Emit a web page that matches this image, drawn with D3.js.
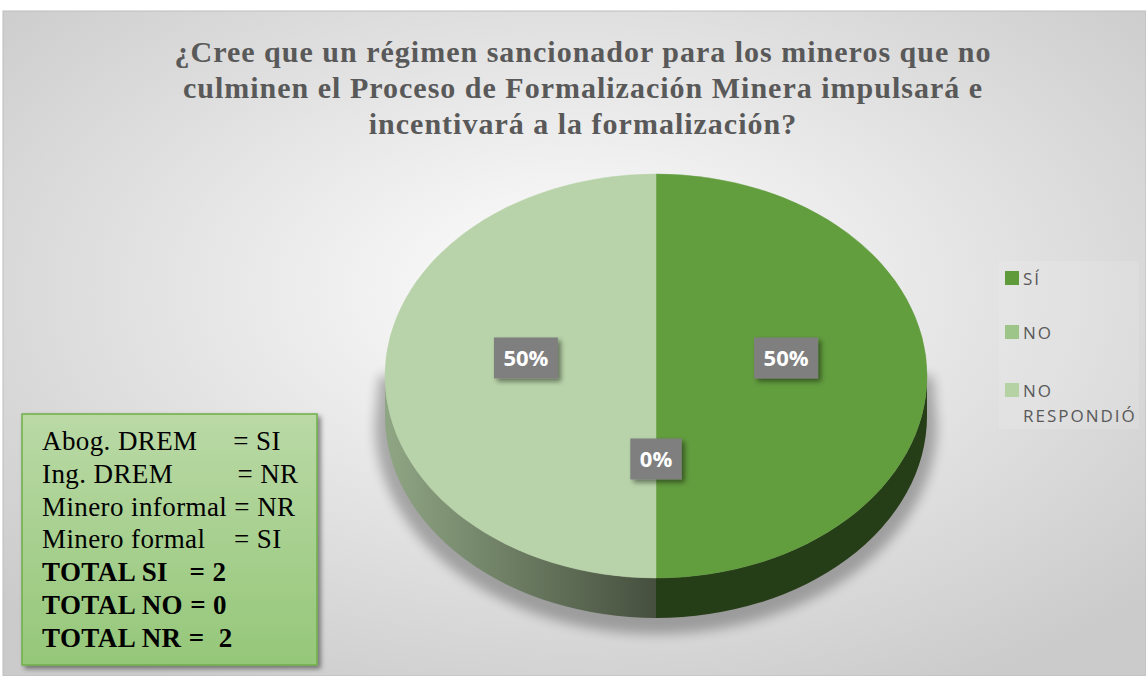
<!DOCTYPE html>
<html>
<head>
<meta charset="utf-8">
<script src="https://cdn.jsdelivr.net/npm/d3@7"></script>
<style>
  body { margin: 0; background: #fff; }
  svg { display: block; }
</style>
</head>
<body>
<div id="chart"></div>
<script>
// Chart data
const titleLines = [
    "¿Cree que un régimen sancionador para los mineros que no",
    "culminen el Proceso de Formalización Minera impulsará e",
    "incentivará a la formalización?"
];
const categories = ["SÍ", "NO", "NO RESPONDIÓ"];
const counts = [2, 0, 2];
const respondentLines = [
    "Abog. DREM     = SI",
    "Ing. DREM         = NR",
    "Minero informal = NR",
    "Minero formal    = SI"
];
const totalLines = [
    "TOTAL SI   = 2",
    "TOTAL NO = 0",
    "TOTAL NR =  2"
];

const width = 1146, height = 676;
const topColors = ["#629d3e", "#9dc58a", "#b8d3a9"];
const legendColors = ["#5f9a3b", "#9dc58a", "#b5d2a5"];

const svg = d3.select("#chart").append("svg")
    .attr("width", width)
    .attr("height", height);

const defs = svg.append("defs");

const bg = defs.append("radialGradient").attr("id", "bg")
    .attr("cx", "50%").attr("cy", "42%").attr("r", "68%");
bg.append("stop").attr("offset", "0%").attr("stop-color", "#ffffff");
bg.append("stop").attr("offset", "100%").attr("stop-color", "#cbcbcb");

const boxFill = defs.append("linearGradient").attr("id", "boxFill")
    .attr("x1", 0).attr("y1", 0).attr("x2", 0).attr("y2", 1);
boxFill.append("stop").attr("offset", "0%").attr("stop-color", "#bad9a6");
boxFill.append("stop").attr("offset", "100%").attr("stop-color", "#95c779");

const blur = defs.append("filter").attr("id", "blur")
    .attr("x", "-20%").attr("y", "-20%").attr("width", "140%").attr("height", "140%");
blur.append("feGaussianBlur").attr("stdDeviation", 6);

const drop = defs.append("filter").attr("id", "drop")
    .attr("x", "-20%").attr("y", "-20%").attr("width", "150%").attr("height", "150%");
drop.append("feDropShadow").attr("dx", 3).attr("dy", 3)
    .attr("stdDeviation", 2.5).attr("flood-color", "#000").attr("flood-opacity", 0.45);

// chart area
svg.append("rect")
    .attr("x", 3).attr("y", 11)
    .attr("width", width - 3).attr("height", height - 11)
    .attr("fill", "url(#bg)")
    .attr("stroke", "#bdbdbd");

// title
svg.append("g").selectAll("text")
    .data(titleLines)
    .join("text")
    .attr("x", 583)
    .attr("y", (d, i) => 62 + i * 36)
    .attr("text-anchor", "middle")
    .attr("font-family", "'Liberation Serif', 'Times New Roman', serif")
    .attr("font-weight", "bold")
    .attr("font-size", 30)
    .attr("letter-spacing", 1)
    .attr("fill", "#595959")
    .text(d => d);

// pie geometry
const cx = 656, cy = 376, rx = 271, ry = 202, depth = 40;
const pie = d3.pie().sort(null).value(d => d.value);
const slices = pie(categories.map((c, i) => ({ name: c, value: counts[i], idx: i })));
const fmt = d3.format(".0%");
const total = d3.sum(counts);

const pt = (a, dy) => [cx + rx * Math.sin(a), cy - ry * Math.cos(a) + (dy || 0)];

const sideGrad = defs.append("linearGradient").attr("id", "sideLeft")
    .attr("gradientUnits", "userSpaceOnUse")
    .attr("x1", cx - rx).attr("y1", 0).attr("x2", cx).attr("y2", 0);
sideGrad.append("stop").attr("offset", "0%").attr("stop-color", "#8fa684");
sideGrad.append("stop").attr("offset", "100%").attr("stop-color", "#464f3e");
const sideColors = ["#263e18", "#3f5e2e", "url(#sideLeft)"];

const pieG = svg.append("g");

// soft shadow under the pie
const sh0 = pt(Math.PI / 2, 0), sh1 = pt(3 * Math.PI / 2, 0);
pieG.append("path")
    .attr("d", `M${sh1[0] - 6},${sh1[1]} L${sh1[0] - 10},${sh1[1] + depth + 8}
        A${rx + 10},${ry + 8} 0 0 0 ${sh0[0] + 10},${sh0[1] + depth + 8}
        L${sh0[0] + 6},${sh0[1]} Z`)
    .attr("fill", "#000")
    .attr("opacity", 0.28)
    .attr("filter", "url(#blur)");

// visible side walls (front half only)
slices.forEach(s => {
    const a0 = Math.max(s.startAngle, Math.PI / 2);
    const a1 = Math.min(s.endAngle, 3 * Math.PI / 2);
    if (a1 - a0 <= 0) return;
    const p0 = pt(a0), p1 = pt(a1), q1 = pt(a1, depth), q0 = pt(a0, depth);
    const large = a1 - a0 > Math.PI ? 1 : 0;
    pieG.append("path")
        .attr("d", `M${p0} A${rx},${ry} 0 ${large} 1 ${p1} L${q1} A${rx},${ry} 0 ${large} 0 ${q0} Z`)
        .attr("fill", sideColors[s.data.idx]);
});

// top faces
slices.forEach(s => {
    if (s.endAngle - s.startAngle <= 0) return;
    const p0 = pt(s.startAngle), p1 = pt(s.endAngle);
    const large = s.endAngle - s.startAngle > Math.PI ? 1 : 0;
    pieG.append("path")
        .attr("d", `M${cx},${cy} L${p0} A${rx},${ry} 0 ${large} 1 ${p1} Z`)
        .attr("fill", topColors[s.data.idx])
        .attr("stroke", topColors[s.data.idx])
        .attr("stroke-width", 0.5);
});

// data labels
const labelG = svg.append("g");
slices.forEach(s => {
    const m = (s.startAngle + s.endAngle) / 2;
    const x = cx + rx * 0.48 * Math.sin(m);
    const y = cy - ry * 0.5 * Math.cos(m) - 18;
    const g = labelG.append("g").attr("transform", `translate(${x},${y})`);
    const rect = g.append("rect").attr("fill", "#7f7f7f").attr("filter", "url(#drop)");
    const t = g.append("text")
        .attr("text-anchor", "middle")
        .attr("dy", "0.36em")
        .attr("font-family", "'Open Sans', sans-serif")
        .attr("font-weight", "bold")
        .attr("font-size", 22)
        .attr("fill", "#fff")
        .text(fmt(s.data.value / total));
    const w = t.node().getComputedTextLength() + 19;
    rect.attr("x", -w / 2).attr("y", -20.5).attr("width", w).attr("height", 41);
});

// legend
const legend = svg.append("g").attr("transform", "translate(1005,271)");
legend.append("rect")
    .attr("x", -6).attr("y", -10).attr("width", 140).attr("height", 168)
    .attr("fill", "#fff").attr("opacity", 0.12);
const legendY = [0, 54, 112];
const li = legend.selectAll("g.item")
    .data(categories)
    .join("g")
    .attr("class", "item")
    .attr("transform", (d, i) => `translate(0,${legendY[i]})`);
li.append("rect")
    .attr("width", 14).attr("height", 14)
    .attr("fill", (d, i) => legendColors[i]);
li.append("text")
    .attr("x", 18)
    .attr("y", 13.5)
    .attr("font-family", "'Open Sans', sans-serif")
    .attr("font-size", 17)
    .attr("letter-spacing", 2)
    .attr("fill", "#595959")
    .each(function (d) {
        const words = d.split(" ");
        const sel = d3.select(this);
        words.forEach((w, k) => {
            sel.append("tspan").attr("x", 18).attr("dy", k === 0 ? 0 : 25).text(w);
        });
    });

// note box
const note = svg.append("g");
note.append("rect")
    .attr("x", 22).attr("y", 414)
    .attr("width", 295).attr("height", 251)
    .attr("fill", "url(#boxFill)")
    .attr("stroke", "#6fae47")
    .attr("stroke-width", 1.5)
    .attr("filter", "url(#drop)");
const noteLines = respondentLines.concat(totalLines);
note.selectAll("text")
    .data(noteLines)
    .join("text")
    .attr("x", 42)
    .attr("y", (d, i) => 450 + i * 32.8)
    .attr("xml:space", "preserve")
    .style("white-space", "pre")
    .attr("font-family", "'Liberation Serif', 'Times New Roman', serif")
    .attr("font-size", 27)
    .attr("letter-spacing", 0.4)
    .attr("font-weight", (d, i) => i >= respondentLines.length ? "bold" : "normal")
    .attr("fill", "#000")
    .text(d => d);
</script>
</body>
</html>
